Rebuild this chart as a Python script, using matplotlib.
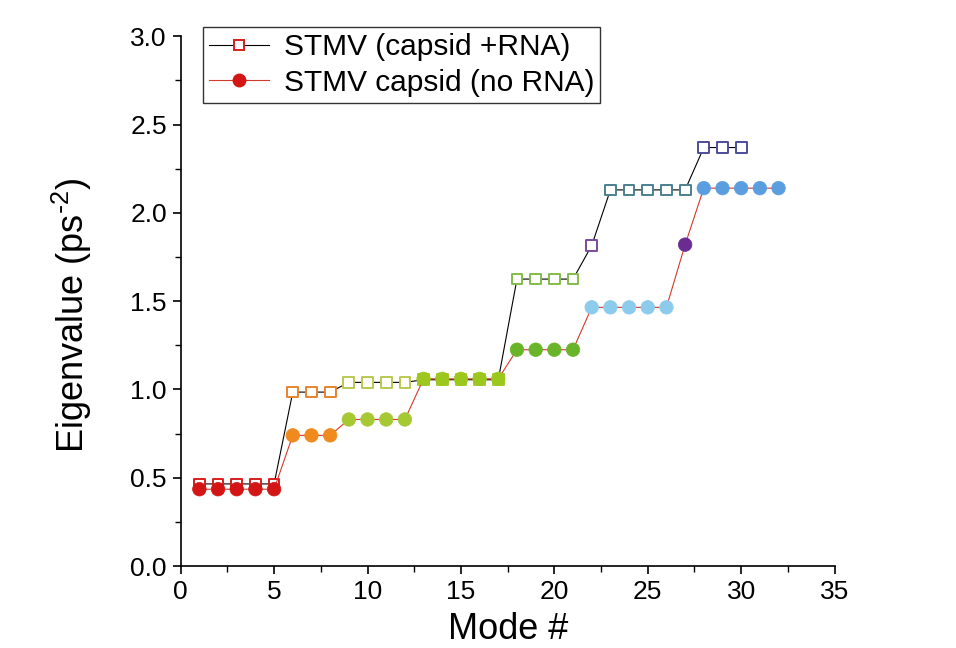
import matplotlib
matplotlib.use("Agg")
import matplotlib.pyplot as plt
from matplotlib.lines import Line2D
from matplotlib.ticker import MultipleLocator, FormatStrFormatter

# STMV normal modes: capsid with RNA
modes_rna = [1, 2, 3, 4, 5, 6, 7, 8, 9, 10, 11, 12, 13, 14, 15,
             16, 17, 18, 19, 20, 21, 22, 23, 24, 25, 26, 27, 28, 29, 30]
eig_rna = [0.465, 0.465, 0.465, 0.465, 0.465,
           0.985, 0.985, 0.985,
           1.04, 1.04, 1.04, 1.04,
           1.055, 1.055, 1.055, 1.055, 1.055,
           1.625, 1.625, 1.625, 1.625,
           1.815,
           2.13, 2.13, 2.13, 2.13, 2.13,
           2.37, 2.37, 2.37]

# STMV capsid without RNA
modes_norna = [1, 2, 3, 4, 5, 6, 7, 8, 9, 10, 11, 12, 13, 14, 15, 16,
               17, 18, 19, 20, 21, 22, 23, 24, 25, 26, 27, 28, 29, 30, 31, 32]
eig_norna = [0.435, 0.435, 0.435, 0.435, 0.435,
             0.74, 0.74, 0.74,
             0.83, 0.83, 0.83, 0.83,
             1.06, 1.06, 1.06, 1.06, 1.06,
             1.225, 1.225, 1.225, 1.225,
             1.465, 1.465, 1.465, 1.465, 1.465,
             1.82,
             2.14, 2.14, 2.14, 2.14, 2.14]

# degenerate group sizes and group colours
groups_rna = [5, 3, 4, 5, 4, 1, 5, 3]
colors_rna = ["#d81e1e", "#e8842c", "#b9c94e", "#a3c832", "#82bd4a",
              "#7a4b9e", "#4b8090", "#4d4d9c"]
groups_norna = [5, 3, 4, 5, 4, 5, 1, 5]
colors_norna = ["#d41515", "#f08a1e", "#a6c832", "#9cc81e", "#6ab42a",
                "#8ccbec", "#6a2c91", "#5a9ee0"]

labels = ["STMV (capsid +RNA)", "STMV capsid (no RNA)"]


def expand(groups, colors):
    out = []
    for n, c in zip(groups, colors):
        out += [c] * n
    return out


plt.rcParams["font.family"] = ["Liberation Sans", "DejaVu Sans"]
plt.rcParams["mathtext.default"] = "regular"

fig = plt.figure(figsize=(9.56, 6.48), dpi=100)
ax = fig.add_axes([0.189, 0.1265, 0.684, 0.8175])

pt_rna = expand(groups_rna, colors_rna)
pt_norna = expand(groups_norna, colors_norna)

ax.plot(modes_rna, eig_rna, color="black", lw=0.8, zorder=2)
ax.scatter(modes_rna, eig_rna, marker="s", s=60, facecolors="white",
           edgecolors=pt_rna, linewidths=1.4, zorder=3)
ax.plot(modes_norna, eig_norna, color="#d43a2a", lw=0.8, zorder=4)
ax.scatter(modes_norna, eig_norna, marker="o", s=95, c=pt_norna,
           edgecolors=pt_norna, linewidths=0.5, zorder=5)

ax.set_xlim(0, 35)
ax.set_ylim(0, 3.0)
ax.xaxis.set_major_locator(MultipleLocator(5))
ax.xaxis.set_minor_locator(MultipleLocator(2.5))
ax.yaxis.set_major_locator(MultipleLocator(0.5))
ax.yaxis.set_minor_locator(MultipleLocator(0.25))
ax.yaxis.set_major_formatter(FormatStrFormatter("%.1f"))
ax.tick_params(which="major", direction="out", length=6, width=1.2,
               labelsize=19, pad=4)
ax.tick_params(which="minor", direction="out", length=4, width=1.0)

for side in ["top", "right"]:
    ax.spines[side].set_visible(False)
for side in ["left", "bottom"]:
    ax.spines[side].set_linewidth(1.2)

ax.set_xlabel("Mode #", fontsize=26, labelpad=6)
ax.set_ylabel(r"Eigenvalue (ps$^{\text{-}2}$)", fontsize=26)
ax.yaxis.set_label_coords(-0.133, 0.474)

handles = [
    Line2D([], [], color="black", lw=0.8, marker="s", markersize=7,
           markerfacecolor="white", markeredgecolor="#d81e1e",
           markeredgewidth=1.4),
    Line2D([], [], color="#d43a2a", lw=0.8, marker="o", markersize=9,
           markerfacecolor="#d41515", markeredgecolor="#d41515"),
]
leg = ax.legend(handles, labels, loc="upper left", bbox_to_anchor=(0.034, 1.017),
                fontsize=21.5, frameon=True, fancybox=False, handlelength=2.0,
                borderpad=0.2, labelspacing=0.25, handletextpad=0.5,
                borderaxespad=0.0)
leg.get_frame().set_edgecolor("black")
leg.get_frame().set_linewidth(1.0)

fig.savefig("out.png", dpi=100)
